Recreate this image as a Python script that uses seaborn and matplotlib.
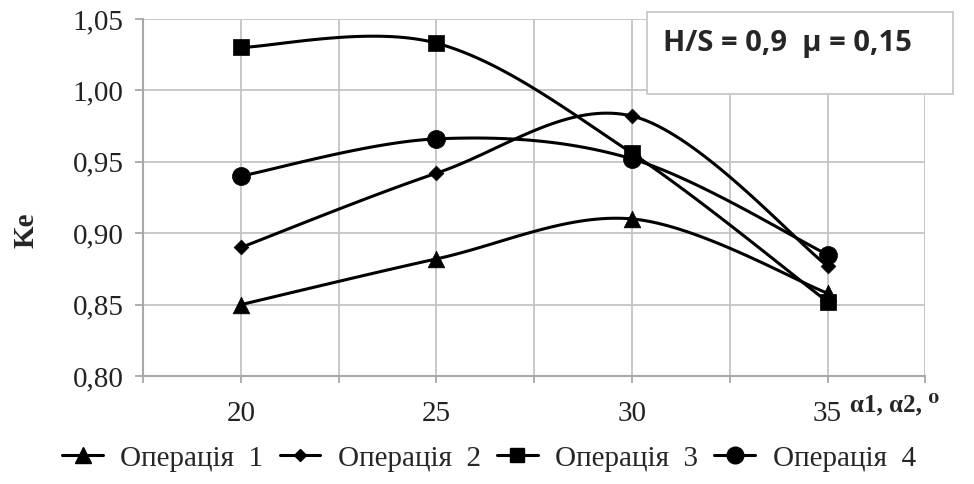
import numpy as np
import pandas as pd
import matplotlib
matplotlib.use("Agg")
import matplotlib.pyplot as plt
from matplotlib.lines import Line2D
from matplotlib.patches import Rectangle
from matplotlib.ticker import FixedLocator, FuncFormatter, NullFormatter
import seaborn as sns

# Angles (degrees) and Ke values for each operation
angles = [20, 25, 30, 35]
op1 = [0.850, 0.882, 0.910, 0.858]
op2 = [0.890, 0.942, 0.982, 0.877]
op3 = [1.030, 1.033, 0.956, 0.852]
op4 = [0.940, 0.966, 0.952, 0.885]
series_names = ["Операція  1", "Операція  2", "Операція  3", "Операція  4"]
y_ticks = [0.80, 0.85, 0.90, 0.95, 1.00, 1.05]
x_ticks = [20, 25, 30, 35]

markers = {"Операція  1": "^", "Операція  2": "D", "Операція  3": "s", "Операція  4": "o"}
msizes = {"Операція  1": 12, "Операція  2": 7.5, "Операція  3": 12, "Операція  4": 13}
leg_sizes = {"Операція  1": 11, "Операція  2": 6, "Операція  3": 10, "Операція  4": 12}

df = pd.DataFrame({
    "angle": angles * 4,
    "Ke": op1 + op2 + op3 + op4,
    "series": np.repeat(series_names, len(angles)),
})

sns.set_theme(style="white")
plt.rcParams["font.family"] = ["Liberation Serif", "DejaVu Serif"]

fig = plt.figure(figsize=(9.74, 4.84), dpi=100)
ax = fig.add_axes([0.147, 0.223, 0.803, 0.738])


def smooth(xs, ys, n=40):
    """Catmull-Rom style Bezier smoothing through the given points."""
    p = np.column_stack([xs, ys]).astype(float)
    pts = np.vstack([p[0], p, p[-1]])
    out = []
    t = np.linspace(0, 1, n)[:, None]
    for i in range(1, len(pts) - 2):
        p0, p1, p2, p3 = pts[i - 1], pts[i], pts[i + 1], pts[i + 2]
        b1 = p1 + (p2 - p0) / 6
        b2 = p2 - (p3 - p1) / 6
        seg = ((1 - t) ** 3) * p1 + 3 * ((1 - t) ** 2) * t * b1 + 3 * (1 - t) * t ** 2 * b2 + t ** 3 * p2
        out.append(seg if i == 1 else seg[1:])
    return np.vstack(out)


for name in series_names:
    sub = df[df["series"] == name]
    curve = smooth(sub["angle"].values, sub["Ke"].values)
    ax.plot(curve[:, 0], curve[:, 1], color="black", lw=2.2, zorder=3)
    sns.scatterplot(data=sub, x="angle", y="Ke", marker=markers[name],
                    s=msizes[name] ** 2, color="black", edgecolor="black",
                    linewidth=0.5, ax=ax, zorder=4, legend=False)

ax.set_xlim(17.5, 37.5)
ax.set_ylim(0.80, 1.05)
ax.xaxis.set_major_locator(FixedLocator(x_ticks))
ax.xaxis.set_minor_locator(FixedLocator([17.5, 22.5, 27.5, 32.5, 37.5]))
ax.xaxis.set_minor_formatter(NullFormatter())
ax.yaxis.set_major_locator(FixedLocator(y_ticks))
ax.yaxis.set_major_formatter(FuncFormatter(lambda v, _: f"{v:.2f}".replace(".", ",")))

grid_c = "#c4c4c4"
ax.grid(True, which="both", color=grid_c, lw=1.3)
ax.set_axisbelow(True)
for side in ["top", "right"]:
    ax.spines[side].set_visible(False)
for side in ["left", "bottom"]:
    ax.spines[side].set_color("#a8a8a8")
    ax.spines[side].set_linewidth(1.5)

ax.tick_params(axis="y", which="major", left=True, length=6, width=1.3,
               color="#a8a8a8", labelsize=21, pad=8, labelcolor="#222222")
ax.tick_params(axis="x", which="both", bottom=True, length=5, width=1.3,
               color="#a8a8a8", labelsize=21, pad=13, labelcolor="#222222")
ax.set_xlabel("")
ax.set_ylabel("")

fig.text(0.027, 0.525, "Ke", rotation=90, ha="center", va="center",
         fontsize=21, fontweight="bold")
fig.text(0.873, 0.163, "α1, α2, ⁰", ha="left", va="center",
         fontsize=18, fontweight="bold")

# Parameter box in the upper right corner
fig.add_artist(Rectangle((0.664, 0.806), 0.314, 0.169, transform=fig.transFigure,
                         facecolor="white", edgecolor="#c8c8c8", linewidth=1.3,
                         zorder=5))
fig.text(0.681, 0.911, "H/S = 0,9  μ = 0,15", ha="left", va="center",
         fontsize=21, fontweight="bold", family=["Open Sans", "DejaVu Sans"],
         zorder=6)

handles = [Line2D([0], [0], color="black", lw=2.2, marker=markers[n],
                  markersize=leg_sizes[n], markerfacecolor="black",
                  markeredgecolor="black") for n in series_names]
fig.legend(handles, series_names, loc="center", bbox_to_anchor=(0.502, 0.053),
           ncol=4, frameon=False, fontsize=21, handlelength=1.4,
           handletextpad=0.6, columnspacing=0.55, borderaxespad=0)

fig.savefig("out.png", dpi=100, facecolor="white")
